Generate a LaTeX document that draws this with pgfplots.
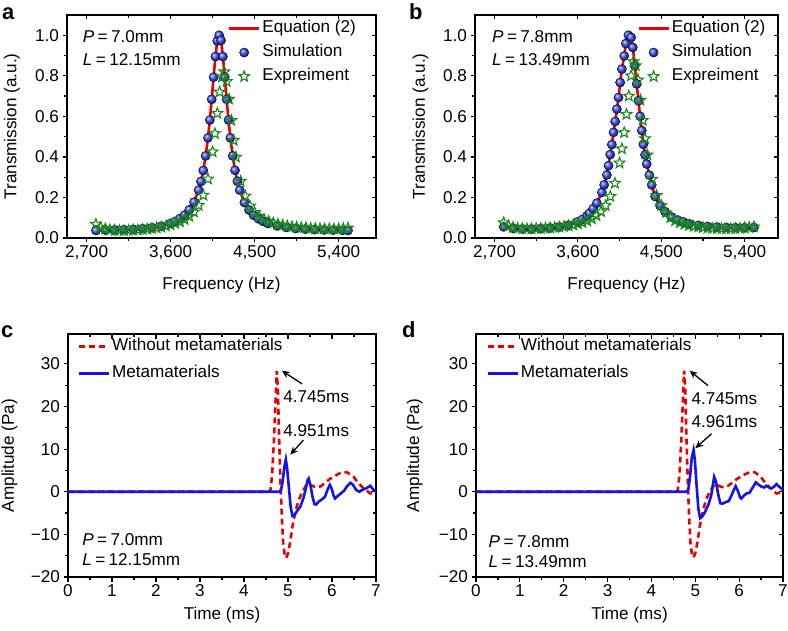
\documentclass[border=0pt]{standalone}
\usepackage{fontspec}
\setmainfont{Liberation Sans}
\usepackage{pgfplots}
\usepackage{pgfplotstable}
\pgfplotsset{compat=1.18}
\usetikzlibrary{arrows.meta}

\newcommand\fs{\fontsize{17.2}{20}\selectfont}
\newcommand\eq{\hspace{0.2em}=\hspace{0.2em}}

% open five-point star
\pgfdeclareplotmark{ostar}{%
  \pgfpathmoveto{\pgfpointpolar{90}{\pgfplotmarksize}}%
  \pgfpathlineto{\pgfpointpolar{126}{0.42*\pgfplotmarksize}}%
  \pgfpathlineto{\pgfpointpolar{162}{\pgfplotmarksize}}%
  \pgfpathlineto{\pgfpointpolar{198}{0.42*\pgfplotmarksize}}%
  \pgfpathlineto{\pgfpointpolar{234}{\pgfplotmarksize}}%
  \pgfpathlineto{\pgfpointpolar{270}{0.42*\pgfplotmarksize}}%
  \pgfpathlineto{\pgfpointpolar{306}{\pgfplotmarksize}}%
  \pgfpathlineto{\pgfpointpolar{342}{0.42*\pgfplotmarksize}}%
  \pgfpathlineto{\pgfpointpolar{18}{\pgfplotmarksize}}%
  \pgfpathlineto{\pgfpointpolar{54}{0.42*\pgfplotmarksize}}%
  \pgfpathclose
  \pgfusepathqstroke
}

\definecolor{expgreen}{RGB}{25,135,25}
\definecolor{eqred}{RGB}{235,0,0}
\definecolor{simblue}{RGB}{20,20,230}
\definecolor{ballblue}{RGB}{60,80,255}

% ---- transmission data (Hz, a.u.)
\pgfplotstableread{
f T
2800 0.037
2900 0.039
3000 0.040
3100 0.041
3200 0.043
3300 0.046
3400 0.051
3500 0.058
3600 0.072
3650 0.082
3700 0.096
3750 0.113
3800 0.139
3850 0.177
3900 0.236
3925 0.279
3950 0.333
3975 0.405
4000 0.494
4020 0.582
4040 0.684
4060 0.793
4080 0.895
4100 0.972
4120 1.000
4140 0.975
4160 0.895
4180 0.793
4200 0.684
4220 0.582
4240 0.494
4265 0.405
4290 0.334
4315 0.280
4340 0.236
4390 0.175
4440 0.138
4490 0.112
4540 0.095
4590 0.082
4640 0.072
4740 0.060
4840 0.052
4940 0.047
5040 0.044
5140 0.041
5240 0.040
5340 0.039
5440 0.038
5500 0.037
}\simA

\pgfplotstableread{
f T
2800 0.068
2850 0.052
2900 0.045
2950 0.040
3000 0.038
3050 0.037
3100 0.037
3150 0.038
3200 0.039
3250 0.040
3300 0.042
3350 0.044
3400 0.047
3450 0.050
3500 0.054
3550 0.059
3600 0.065
3650 0.072
3700 0.080
3750 0.091
3800 0.106
3850 0.128
3900 0.161
3950 0.211
4000 0.291
4050 0.425
4075 0.515
4100 0.615
4125 0.720
4150 0.795
4175 0.820
4200 0.772
4225 0.685
4250 0.580
4275 0.482
4300 0.399
4350 0.280
4400 0.207
4450 0.158
4500 0.126
4550 0.106
4600 0.092
4650 0.082
4700 0.074
4750 0.068
4800 0.063
4850 0.059
4900 0.056
4950 0.053
5000 0.051
5050 0.050
5100 0.048
5150 0.047
5200 0.046
5250 0.045
5300 0.045
5350 0.044
5400 0.045
5450 0.047
5500 0.049
}\expA

\pgfplotstableread{
f T
2800 0.055
2900 0.048
3000 0.045
3100 0.045
3200 0.047
3300 0.050
3400 0.055
3500 0.063
3600 0.080
3650 0.092
3700 0.110
3726 0.122
3765 0.145
3805 0.172
3859 0.225
3884 0.262
3913 0.311
3931 0.357
3949 0.411
3967 0.461
3985 0.521
4003 0.575
4021 0.636
4039 0.693
4057 0.767
4075 0.833
4100 0.898
4118 0.959
4146 1.000
4175 0.989
4193 0.940
4215 0.850
4235 0.760
4254 0.677
4272 0.600
4290 0.530
4307 0.462
4325 0.410
4343 0.365
4372 0.310
4397 0.262
4433 0.205
4487 0.160
4541 0.130
4613 0.103
4680 0.088
4738 0.079
4800 0.070
4900 0.062
5000 0.057
5100 0.054
5200 0.052
5300 0.051
5400 0.051
5500 0.052
}\simB

\pgfplotstableread{
f T
2800 0.075
2850 0.060
2900 0.052
2950 0.048
3000 0.046
3050 0.045
3100 0.045
3150 0.046
3200 0.047
3250 0.048
3300 0.050
3350 0.052
3400 0.054
3450 0.057
3500 0.060
3550 0.064
3600 0.070
3650 0.076
3700 0.084
3750 0.095
3800 0.110
3850 0.130
3900 0.160
3950 0.205
4000 0.270
4050 0.370
4075 0.440
4100 0.520
4125 0.610
4150 0.700
4175 0.800
4200 0.870
4225 0.850
4250 0.780
4275 0.680
4300 0.580
4325 0.490
4350 0.410
4400 0.290
4450 0.210
4500 0.160
4550 0.125
4600 0.100
4650 0.085
4700 0.075
4750 0.068
4800 0.062
4850 0.058
4900 0.055
4950 0.052
5000 0.050
5050 0.048
5100 0.047
5150 0.046
5200 0.046
5250 0.046
5300 0.047
5350 0.048
5400 0.050
5450 0.052
5500 0.055
}\expB

% ---- pressure signals (ms, Pa)
\pgfplotstableread{
t p
0 0
4.55 0
4.60 0.3
4.64 4
4.68 12
4.72 22
4.745 28.3
4.77 24
4.80 12
4.83 2
4.86 -6
4.89 -12
4.93 -15.3
4.96 -15.5
5.00 -14.5
5.05 -11.8
5.10 -8.2
5.15 -5.6
5.20 -3.5
5.25 -1.8
5.30 -0.6
5.40 1.3
5.47 1.9
5.55 1.4
5.65 1.0
5.75 1.3
5.85 2.2
5.95 3.0
6.05 3.6
6.15 4.2
6.26 4.7
6.35 4.5
6.49 3.5
6.60 2.0
6.72 0.8
6.87 -0.4
6.95 -0.2
7.00 0.3
}\refC

\pgfplotstableread{
t p
0 0
4.80 0
4.84 0.3
4.88 2.5
4.92 6
4.951 7.6
4.98 5.5
5.02 1
5.06 -3.5
5.10 -5.7
5.14 -5.6
5.20 -4.6
5.28 -3.5
5.35 -1.5
5.40 0.5
5.44 2.6
5.47 3.1
5.51 1.5
5.56 -1.3
5.60 -2.9
5.64 -3.0
5.70 -2.3
5.77 -1.8
5.84 -1.2
5.90 0.5
5.95 1.6
5.99 0.8
6.04 -1.0
6.07 -1.6
6.12 -1.1
6.20 -0.4
6.28 0.3
6.34 1.3
6.42 2.1
6.48 1.6
6.55 0.4
6.62 0.0
6.70 0.5
6.78 0.8
6.87 1.4
6.93 0.6
7.00 0.0
}\metaC

\pgfplotstableread{
t p
0 0
4.55 0
4.60 0.3
4.64 4
4.68 12
4.72 22
4.745 28.4
4.77 24
4.80 12
4.83 2
4.86 -6
4.89 -12
4.93 -15.2
4.96 -15.4
5.00 -14.4
5.05 -11.8
5.10 -8.2
5.15 -5.6
5.20 -3.5
5.25 -1.8
5.30 -0.6
5.40 1.2
5.47 1.8
5.55 1.3
5.65 1.0
5.75 1.4
5.85 2.2
5.95 3.0
6.05 3.6
6.15 4.2
6.28 4.7
6.37 4.5
6.50 3.4
6.60 2.0
6.72 0.8
6.85 -0.4
6.95 -0.2
7.00 0.3
}\refD

\pgfplotstableread{
t p
0 0
4.80 0
4.84 0.5
4.88 3.5
4.92 8
4.961 9.8
4.99 7.5
5.03 1.5
5.07 -4
5.11 -6.2
5.16 -5.8
5.22 -4.8
5.30 -3.0
5.36 -1
5.40 1.5
5.43 3.5
5.47 2.5
5.52 -0.5
5.57 -2.7
5.62 -2.8
5.70 -2.4
5.76 -2.2
5.82 -1
5.88 0.5
5.92 1.3
5.97 0.2
6.02 -1.3
6.05 -1.6
6.11 -0.9
6.17 -0.4
6.24 -0.2
6.31 1.0
6.38 2.2
6.45 1.6
6.51 1.2
6.57 1.0
6.62 1.4
6.68 1.0
6.74 0.8
6.80 1.2
6.85 1.8
6.91 1.2
6.96 0.8
7.00 0.3
}\metaD

\pgfplotsset{
  base/.style={
    scale only axis,
    axis line style={line width=1.6bp},
    every tick/.style={black, line width=1.2bp},
    major tick length=4.5bp,
    minor tick length=3bp,
    minor tick num=1,
    tick label style={font=\fs},
    label style={font=\fs},
    /pgf/number format/assume math mode=true,
  },
  % left/bottom ticks point outward
  front/.style={base, tick align=outside, xtick pos=bottom, ytick pos=left},
  % top/right ticks point inward, no labels
  back/.style={base, tick align=inside, xtick pos=top, ytick pos=right,
    xticklabels={}, yticklabels={}, axis line style={draw=none}},
  trans/.style={
    ymin=0, ymax=1.1, ytick={0,0.2,...,1.0},
    xtick={2700,3600,4500,5400}, scaled x ticks=false,
    xticklabel style={/pgf/number format/1000 sep={,}},
    yticklabel style={/pgf/number format/.cd, fixed, fixed zerofill, precision=1},
  },
  timeax/.style={
    xmin=0, xmax=7, ymin=-20, ymax=37,
    xtick={0,...,7}, ytick={-20,-10,0,10,20,30},
  },
  lineleg/.style={legend image code/.code={\draw[##1] (0bp,0bp) -- (30bp,0bp);}},
  markleg/.style={legend image code/.code={\draw[##1] plot coordinates {(15bp,0bp)};}},
  legsty/.style={legend cell align=left,
    legend style={draw=none, fill=none, font=\fs, inner sep=0pt,
      row sep=#1, nodes={inner sep=2bp, text height=12bp, text depth=4bp}}},
}

\begin{document}
\begin{tikzpicture}
\useasboundingbox (0,0) rectangle (788bp,631bp);

% ================= a
\begin{axis}[back, trans, at={(67bp,393bp)}, anchor=south west,
  width=309bp, height=223bp, xmin=2490, xmax=5800]
\end{axis}
\begin{axis}[front, trans, at={(67bp,393bp)}, anchor=south west,
  width=309bp, height=223bp, xmin=2490, xmax=5800,
  xlabel={Frequency (Hz)}, ylabel={Transmission (a.u.)},
  xlabel style={at={(axis description cs:0.5,-0.21)}, anchor=center},
  ylabel style={at={(axis description cs:-0.178,0.5)}, anchor=center},
  legsty=4bp, legend style={at={(axis description cs:0.52,0.985)}, anchor=north west}]
  \addplot[lineleg, eqred, line width=2.6bp] table[x=f, y=T] {\simA};
  \addlegendentry{Equation (2)}
  \addplot[markleg, only marks, mark=ball, mark size=4.6bp, ball color=ballblue] table[x=f, y=T] {\simA};
  \addlegendentry{Simulation}
  \addplot[markleg, only marks, mark=ostar, mark size=5.6bp, expgreen, line width=1.1bp] table[x=f, y=T] {\expA};
  \addlegendentry{Expreiment}
  \node[anchor=west, font=\fs] at (axis description cs:0.04,0.905) {\textit{P}\eq7.0mm};
  \node[anchor=west, font=\fs] at (axis description cs:0.04,0.80) {\textit{L}\eq12.15mm};
\end{axis}

% ================= b
\begin{axis}[back, trans, at={(475bp,393bp)}, anchor=south west,
  width=303bp, height=223bp, xmin=2490, xmax=5760]
\end{axis}
\begin{axis}[front, trans, at={(475bp,393bp)}, anchor=south west,
  width=303bp, height=223bp, xmin=2490, xmax=5760,
  xlabel={Frequency (Hz)}, ylabel={Transmission (a.u.)},
  xlabel style={at={(axis description cs:0.5,-0.21)}, anchor=center},
  ylabel style={at={(axis description cs:-0.18,0.5)}, anchor=center},
  legsty=4bp, legend style={at={(axis description cs:0.535,0.985)}, anchor=north west}]
  \addplot[lineleg, eqred, line width=2.6bp] table[x=f, y=T] {\simB};
  \addlegendentry{Equation (2)}
  \addplot[markleg, only marks, mark=ball, mark size=4.6bp, ball color=ballblue] table[x=f, y=T] {\simB};
  \addlegendentry{Simulation}
  \addplot[markleg, only marks, mark=ostar, mark size=5.6bp, expgreen, line width=1.1bp] table[x=f, y=T] {\expB};
  \addlegendentry{Expreiment}
  \node[anchor=west, font=\fs] at (axis description cs:0.045,0.905) {\textit{P}\eq7.8mm};
  \node[anchor=west, font=\fs] at (axis description cs:0.045,0.80) {\textit{L}\eq13.49mm};
\end{axis}

% ================= c
\begin{axis}[back, timeax, at={(68bp,54bp)}, anchor=south west,
  width=308bp, height=243bp]
\end{axis}
\begin{axis}[front, timeax, at={(68bp,54bp)}, anchor=south west,
  width=308bp, height=243bp,
  yticklabels={−20,−10,0,10,20,30},
  xlabel={Time (ms)}, ylabel={Amplitude (Pa)},
  xlabel style={at={(axis description cs:0.5,-0.158)}, anchor=center},
  ylabel style={at={(axis description cs:-0.19,0.5)}, anchor=center},
  legsty=7bp, legend style={at={(axis description cs:0.03,0.99)}, anchor=north west}]
  \addplot[lineleg, eqred, line width=2.6bp, dash pattern=on 6bp off 4bp] table[x=t, y=p] {\refC};
  \addlegendentry{Without metamaterials}
  \addplot[lineleg, simblue, line width=2.6bp] table[x=t, y=p] {\metaC};
  \addlegendentry{Metamaterials}
  \draw[-{Stealth[length=8bp,width=7bp]}, line width=1.3bp] (axis cs:5.32,25.3) -- (axis cs:4.86,28.4);
  \draw[-{Stealth[length=8bp,width=7bp]}, line width=1.3bp] (axis cs:5.35,12.1) -- (axis cs:5.05,8.7);
  \node[anchor=west, font=\fs, inner sep=0pt] at (axis cs:4.89,22.4) {4.745ms};
  \node[anchor=west, font=\fs, inner sep=0pt] at (axis cs:4.89,14.4) {4.951ms};
  \node[anchor=west, font=\fs] at (axis description cs:0.035,0.152) {\textit{P}\eq7.0mm};
  \node[anchor=west, font=\fs] at (axis description cs:0.035,0.07) {\textit{L}\eq12.15mm};
\end{axis}

% ================= d
\begin{axis}[back, timeax, at={(476bp,54bp)}, anchor=south west,
  width=307bp, height=243bp]
\end{axis}
\begin{axis}[front, timeax, at={(476bp,54bp)}, anchor=south west,
  width=307bp, height=243bp,
  yticklabels={−20,−10,0,10,20,30},
  xlabel={Time (ms)}, ylabel={Amplitude (Pa)},
  xlabel style={at={(axis description cs:0.5,-0.158)}, anchor=center},
  ylabel style={at={(axis description cs:-0.2,0.5)}, anchor=center},
  legsty=7bp, legend style={at={(axis description cs:0.033,0.99)}, anchor=north west}]
  \addplot[lineleg, eqred, line width=2.6bp, dash pattern=on 6bp off 4bp] table[x=t, y=p] {\refD};
  \addlegendentry{Without metamaterials}
  \addplot[lineleg, simblue, line width=2.6bp] table[x=t, y=p] {\metaD};
  \addlegendentry{Metamaterials}
  \draw[-{Stealth[length=8bp,width=7bp]}, line width=1.3bp] (axis cs:5.29,24.9) -- (axis cs:4.87,28.4);
  \draw[-{Stealth[length=8bp,width=7bp]}, line width=1.3bp] (axis cs:5.37,13.6) -- (axis cs:5.0,10.2);
  \node[anchor=west, font=\fs, inner sep=0pt] at (axis cs:4.91,21.8) {4.745ms};
  \node[anchor=west, font=\fs, inner sep=0pt] at (axis cs:4.91,16.4) {4.961ms};
  \node[anchor=west, font=\fs] at (axis description cs:0.03,0.144) {\textit{P}\eq7.8mm};
  \node[anchor=west, font=\fs] at (axis description cs:0.03,0.063) {\textit{L}\eq13.49mm};
\end{axis}

% panel letters
\node[anchor=base west, font=\bfseries\fontsize{22}{22}\selectfont, inner sep=0pt] at (2bp,611bp) {a};
\node[anchor=base west, font=\bfseries\fontsize{22}{22}\selectfont, inner sep=0pt] at (409bp,611bp) {b};
\node[anchor=base west, font=\bfseries\fontsize{22}{22}\selectfont, inner sep=0pt] at (1bp,293bp) {c};
\node[anchor=base west, font=\bfseries\fontsize{22}{22}\selectfont, inner sep=0pt] at (402bp,293bp) {d};
\end{tikzpicture}
\end{document}
